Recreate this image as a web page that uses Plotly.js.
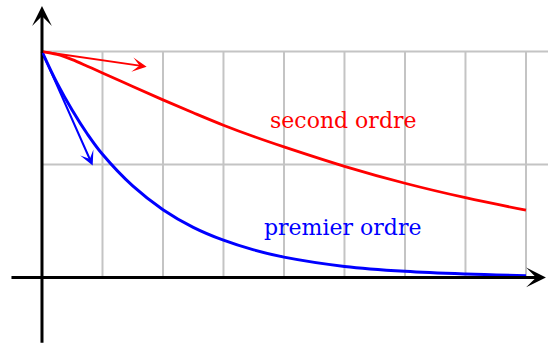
<!DOCTYPE html>
<html>
<head>
<meta charset="utf-8">
<script src="https://cdn.plot.ly/plotly-3.0.1.min.js"></script>
<style>
  html, body { margin: 0; padding: 0; background: #fff; }
  #chart { width: 548px; height: 350px; }
</style>
</head>
<body>
<div id="chart"></div>
<script>
// Time samples (in units of the grid step)
const t = [0, 0.25, 0.5, 0.75, 1, 1.5, 2, 2.5, 3, 3.5, 4, 5, 6, 7, 8];

// Free response of a first-order system
const premierOrdre = [1, 0.86, 0.74, 0.635, 0.545, 0.405, 0.30, 0.222, 0.165, 0.122, 0.09, 0.049, 0.027, 0.015, 0.008];

// Free response of a second-order system
const secondOrdre = [1, 0.987, 0.964, 0.935, 0.905, 0.845, 0.786, 0.729, 0.674, 0.624, 0.578, 0.492, 0.417, 0.353, 0.298];

// Curve labels
const labels = ['premier ordre', 'second ordre'];
const labelPos = [[4.97, 0.222], [4.99, 0.694]];

// Initial tangents: tail at (0, 1), tip at the listed point
const tangentStart = [0, 1];
const tangentPremier = [0.838, 0.495];
const tangentSecond = [1.73, 0.933];

// Grid
const gridX = [1, 2, 3, 4, 5, 6, 7, 8];
const gridY = [0.5, 1];

const xRange = [-0.694, 8.364];
const yRange = [-0.321, 1.228];

const RED = '#ff0000';
const BLUE = '#0000ff';
const GRID = '#c4c4c4';
const SERIF = '"DejaVu Serif", "Liberation Serif", serif';

const shapes = [];
gridX.forEach(g => shapes.push({
  type: 'line', layer: 'below', xref: 'x', yref: 'y',
  x0: g, x1: g, y0: 0, y1: gridY[gridY.length - 1],
  line: { color: GRID, width: 2 }
}));
gridY.forEach(g => shapes.push({
  type: 'line', layer: 'below', xref: 'x', yref: 'y',
  x0: 0, x1: xRange[1], y0: g, y1: g,
  line: { color: GRID, width: 2 }
}));

function arrow(tail, tip, color, width, size) {
  return {
    x: tip[0], y: tip[1], ax: tail[0], ay: tail[1],
    xref: 'x', yref: 'y', axref: 'x', ayref: 'y',
    text: '', showarrow: true,
    arrowhead: 3, arrowsize: size, arrowwidth: width, arrowcolor: color,
    standoff: 0, startstandoff: 0
  };
}

const annotations = [
  // axes
  arrow([-0.529, 0], [8.33, 0], '#000', 3, 1.1),
  arrow([0, -0.296], [0, 1.201], '#000', 3, 1.1),
  // tangents
  arrow(tangentStart, tangentPremier, BLUE, 2, 1.2),
  arrow(tangentStart, tangentSecond, RED, 2, 1.2),
  // labels
  {
    x: labelPos[0][0], y: labelPos[0][1], xref: 'x', yref: 'y',
    text: labels[0], showarrow: false, xanchor: 'center', yanchor: 'middle',
    font: { family: SERIF, size: 22, color: BLUE }
  },
  {
    x: labelPos[1][0], y: labelPos[1][1], xref: 'x', yref: 'y',
    text: labels[1], showarrow: false, xanchor: 'center', yanchor: 'middle',
    font: { family: SERIF, size: 22, color: RED }
  }
];

const traces = [
  {
    x: t, y: premierOrdre, type: 'scatter', mode: 'lines',
    line: { color: BLUE, width: 3, shape: 'spline', smoothing: 1 },
    hoverinfo: 'skip', cliponaxis: false
  },
  {
    x: t, y: secondOrdre, type: 'scatter', mode: 'lines',
    line: { color: RED, width: 2.8, shape: 'spline', smoothing: 1 },
    hoverinfo: 'skip', cliponaxis: false
  }
];

const hidden = {
  showgrid: false, zeroline: false, showticklabels: false,
  showline: false, ticks: '', fixedrange: true
};

const layout = {
  width: 548, height: 350,
  margin: { l: 0, r: 0, t: 0, b: 0, pad: 0 },
  paper_bgcolor: '#ffffff', plot_bgcolor: '#ffffff',
  showlegend: false,
  xaxis: Object.assign({ range: xRange }, hidden),
  yaxis: Object.assign({ range: yRange }, hidden),
  shapes: shapes,
  annotations: annotations
};

Plotly.newPlot('chart', traces, layout, { staticPlot: true, displayModeBar: false });
</script>
</body>
</html>
